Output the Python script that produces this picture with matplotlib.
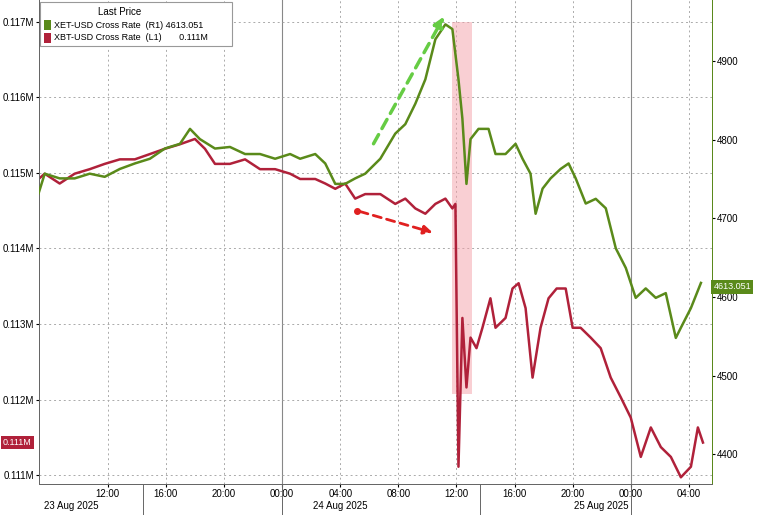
import matplotlib.pyplot as plt
from matplotlib.patches import Rectangle

plt.rcParams.update({"font.family": ["Liberation Sans", "DejaVu Sans"], "font.size": 7})
GREEN = "#5a8a1a"
RED = "#b0213a"

# hours since 23 Aug 2025 00:00
eth_hours = [7.24, 7.66, 8.69, 9.72, 10.76, 11.79, 12.83, 13.86, 14.9, 15.93,
             16.97, 17.66, 18.34, 19.38, 20.41, 21.45, 22.48, 23.52, 24.55, 25.24,
             26.28, 26.97, 27.66, 28.34, 29.03, 29.72, 30.76, 31.79, 32.48, 33.17,
             33.86, 34.55, 35.24, 35.72, 36.14, 36.41, 36.69, 36.97, 37.52, 38.21,
             38.69, 39.38, 40.07, 40.55, 41.1, 41.45, 41.93, 42.48, 43.17, 43.72,
             44.21, 44.9, 45.59, 46.28, 46.97, 47.66, 48.34, 49.03, 49.72, 50.41,
             51.1, 51.45, 52.14, 52.83]
eth_vals = [4732, 4757, 4751, 4751, 4757, 4753, 4763, 4770, 4776, 4789,
            4795, 4814, 4801, 4789, 4791, 4782, 4782, 4776, 4782, 4776,
            4782, 4770, 4744, 4744, 4751, 4757, 4776, 4808, 4820, 4846,
            4877, 4928, 4947, 4941, 4877, 4827, 4744, 4801, 4814, 4814,
            4782, 4782, 4795, 4776, 4757, 4706, 4738, 4751, 4763, 4770,
            4751, 4719, 4725, 4713, 4662, 4637, 4599, 4611, 4599, 4605,
            4548, 4561, 4586, 4618]
btc_hours = [7.24, 7.66, 8.69, 9.72, 10.76, 11.79, 12.83, 13.86, 14.9, 15.93,
             16.97, 18.0, 18.69, 19.38, 20.41, 21.45, 22.48, 23.52, 24.55, 25.24,
             26.28, 26.97, 27.66, 28.34, 29.03, 29.72, 30.76, 31.79, 32.48, 33.17,
             33.86, 34.55, 35.24, 35.72, 35.93, 36.14, 36.41, 36.69, 36.97, 37.38,
             37.79, 38.34, 38.69, 39.38, 39.86, 40.28, 40.76, 41.24, 41.79, 42.34,
             42.9, 43.52, 44.0, 44.55, 45.24, 45.93, 46.62, 47.31, 48.0, 48.69,
             49.38, 50.07, 50.76, 51.45, 52.14, 52.62, 52.97]
btc_vals = [114.92, 114.99, 114.86, 114.99, 115.05, 115.12, 115.18, 115.18, 115.25, 115.32,
            115.38, 115.45, 115.32, 115.12, 115.12, 115.18, 115.05, 115.05, 114.99, 114.92,
            114.92, 114.86, 114.79, 114.86, 114.66, 114.72, 114.72, 114.59, 114.66, 114.53,
            114.46, 114.59, 114.66, 114.53, 114.59, 111.11, 113.08, 112.16, 112.82, 112.68,
            112.95, 113.34, 112.95, 113.08, 113.47, 113.54, 113.21, 112.29, 112.95, 113.34,
            113.47, 113.47, 112.95, 112.95, 112.82, 112.68, 112.29, 112.03, 111.76, 111.24,
            111.63, 111.37, 111.24, 110.97, 111.11, 111.63, 111.43]  # thousands USD

left_ticks = [111, 112, 113, 114, 115, 116, 117]
right_ticks = [4400, 4500, 4600, 4700, 4800, 4900]
x_ticks = [12, 16, 20, 24, 28, 32, 36, 40, 44, 48, 52]
x_labels = ["12:00", "16:00", "20:00", "00:00", "04:00", "08:00", "12:00",
            "16:00", "20:00", "00:00", "04:00"]

fig = plt.figure(figsize=(7.6, 5.15), dpi=100)
ax = fig.add_axes([0.051, 0.06, 0.886, 0.94])
ax2 = ax.twinx()

ax.set_xlim(7.25, 53.6)
ax.set_ylim(110.88, 117.29)
ax2.set_ylim(4362, 4978)

for h in x_ticks:
    if h in (24, 48):
        ax.axvline(h, color="#888888", lw=0.8, zorder=0)
    else:
        ax.axvline(h, color="#aaaaaa", lw=0.7, ls=(0, (2, 3)), zorder=0)
for v in left_ticks:
    ax.axhline(v, color="#aaaaaa", lw=0.7, ls=(0, (2, 3)), zorder=0)

ax.add_patch(Rectangle((35.72, 112.07), 1.38, 117.0 - 112.07,
                       color="#f4a0a8", alpha=0.5, lw=0, zorder=1))

ax.plot(btc_hours, btc_vals, color=RED, lw=1.8, zorder=3)
ax2.plot(eth_hours, eth_vals, color=GREEN, lw=1.8, zorder=3)

ax2.annotate("", xy=(35.24, 4960), xytext=(30.2, 4792),
             arrowprops=dict(arrowstyle="-|>", color="#66cc44", lw=2.5,
                             ls=(0, (3, 2)), mutation_scale=15))
ax.plot([29.17], [114.50], "o", color="#e02020", ms=4, zorder=4)
ax.annotate("", xy=(34.55, 114.20), xytext=(29.17, 114.50),
            arrowprops=dict(arrowstyle="-|>", color="#e02020", lw=2,
                            ls=(0, (3, 2)), mutation_scale=13))

ax.set_yticks(left_ticks)
ax.set_yticklabels([f"0.{v}M" for v in left_ticks])
ax2.set_yticks(right_ticks)
ax.set_xticks(x_ticks)
ax.set_xticklabels(x_labels)
ax.tick_params(axis="both", labelsize=7, length=2, pad=1.5)
ax2.tick_params(axis="y", labelsize=7, length=2, pad=1.5)
for a in (ax, ax2):
    for s in a.spines.values():
        s.set_color("#666666")
        s.set_linewidth(0.7)
    a.spines["top"].set_visible(False)
ax2.spines["right"].set_color(GREEN)

# date row under the time ticks, with separators
for x, t in [(9.5, "23 Aug 2025"), (28.0, "24 Aug 2025"), (46.0, "25 Aug 2025")]:
    ax.text(x, -0.046, t, transform=ax.get_xaxis_transform(), ha="center",
            va="center", fontsize=7)
for x in (14.4, 24, 37.6, 48):
    ax.plot([x, x], [-0.065, 0], transform=ax.get_xaxis_transform(),
            color="#666666", lw=0.7, clip_on=False)

ax2.text(1.002, 4613, "4613.051", transform=ax2.get_yaxis_transform(),
         ha="left", va="center", fontsize=6.5, color="white",
         bbox=dict(boxstyle="square,pad=0.25", fc=GREEN, ec="none"))
ax.text(-0.053, 111.43, "0.111M", transform=ax.get_yaxis_transform(),
        ha="left", va="center", fontsize=6.5, color="white",
        bbox=dict(boxstyle="square,pad=0.25", fc=RED, ec="none"))

# legend box
ax.add_patch(Rectangle((0.002, 0.905), 0.285, 0.09, transform=ax.transAxes,
                       fc="white", ec="#999999", lw=0.8, zorder=5))
ax.text(0.12, 0.985, "Last Price", transform=ax.transAxes, ha="center",
        va="top", fontsize=7, zorder=6)
rows = [(GREEN, "XET-USD Cross Rate  (R1) 4613.051", 0.948),
        (RED, "XBT-USD Cross Rate  (L1)       0.111M", 0.922)]
for c, t, y in rows:
    ax.add_patch(Rectangle((0.008, y - 0.01), 0.01, 0.02, transform=ax.transAxes,
                           fc=c, ec="none", zorder=6))
    ax.text(0.022, y, t, transform=ax.transAxes, ha="left", va="center",
            fontsize=6.5, zorder=6)

fig.savefig("out.png", dpi=100)
